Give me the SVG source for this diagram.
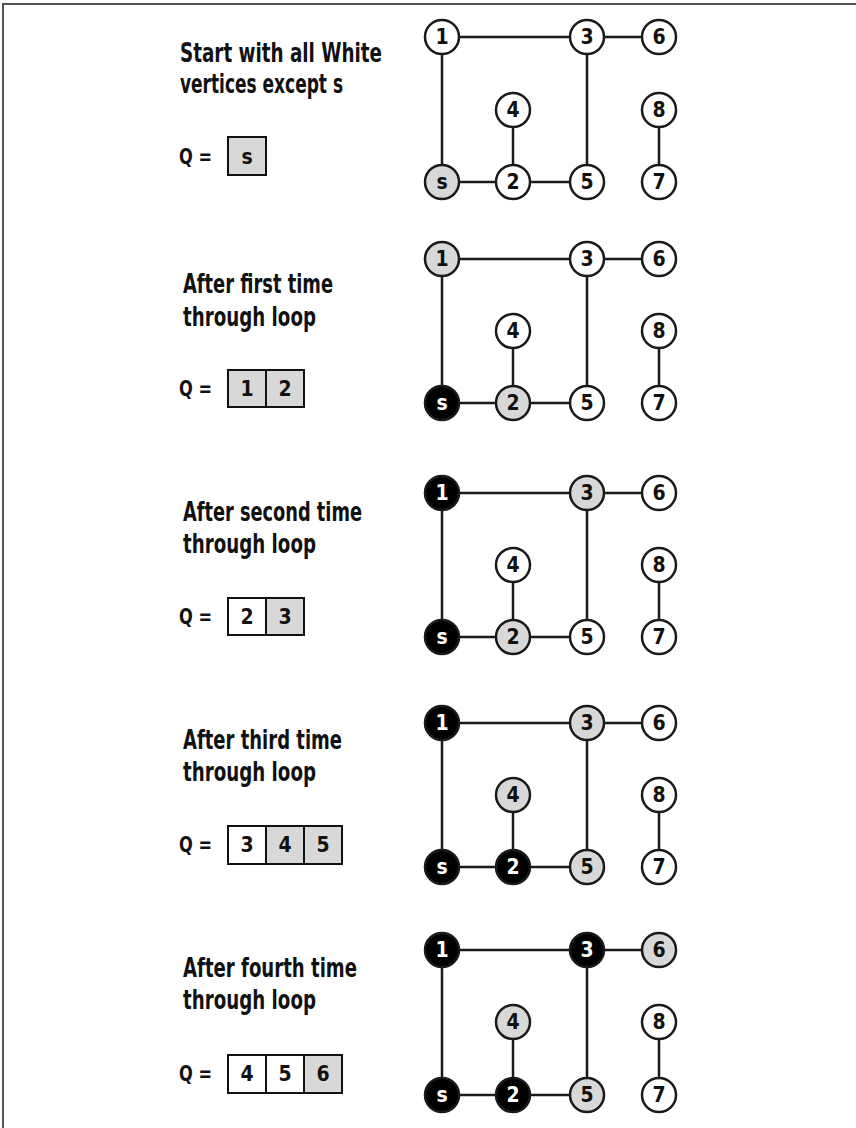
<svg xmlns="http://www.w3.org/2000/svg" width="856" height="1128" viewBox="0 0 856 1128">
<style>
text{font-family:"Liberation Sans Narrow","DejaVu Sans Condensed","Liberation Sans",sans-serif;font-weight:bold;fill:#111}
.title{font-size:26px}
.q{font-size:21px}
.node circle{stroke:#1a1a1a;stroke-width:2.5}
.node text{font-size:21px;text-anchor:middle}
.w circle{fill:#fff}
.g circle{fill:#d8d8d8}
.b circle{fill:#000}
.b text{fill:#fff}
.cell rect{stroke:#111;stroke-width:2}
.cell text{font-size:21px;text-anchor:middle}
.cw rect{fill:#fff}
.cg rect{fill:#d8d8d8}
.edges line{stroke:#1a1a1a;stroke-width:2.5}
.frame{stroke:#555;stroke-width:2;fill:none}
</style>
<path class="frame" d="M3,1128 V4 H856"/>

<!-- Panel 1 -->
<g id="p1-label"><text class="title" x="180" y="62" textLength="202" lengthAdjust="spacingAndGlyphs">Start with all White</text><text class="title" x="180" y="93" textLength="163" lengthAdjust="spacingAndGlyphs">vertices except s</text></g>
<g id="p1-queue"><text class="q" x="179" y="164" textLength="33" lengthAdjust="spacingAndGlyphs">Q =</text>
<g class="cell cg"><rect x="228" y="137" width="38" height="38"/><text x="247" y="164">s</text></g></g>
<g id="p1-edges" class="edges">
<line x1="442" y1="37" x2="587" y2="37"/><line x1="587" y1="37" x2="659" y2="37"/>
<line x1="442" y1="37" x2="442" y2="182"/><line x1="587" y1="37" x2="587" y2="182"/>
<line x1="513" y1="110" x2="513" y2="182"/><line x1="442" y1="182" x2="587" y2="182"/>
<line x1="659" y1="110" x2="659" y2="182"/></g>
<g id="p1-n1" class="node w"><circle cx="442" cy="37" r="17"/><text x="442" y="44">1</text></g>
<g id="p1-n3" class="node w"><circle cx="587" cy="37" r="17"/><text x="587" y="44">3</text></g>
<g id="p1-n6" class="node w"><circle cx="659" cy="37" r="17"/><text x="659" y="44">6</text></g>
<g id="p1-n4" class="node w"><circle cx="513" cy="110" r="17"/><text x="513" y="117">4</text></g>
<g id="p1-n8" class="node w"><circle cx="659" cy="110" r="17"/><text x="659" y="117">8</text></g>
<g id="p1-ns" class="node g"><circle cx="442" cy="182" r="17"/><text x="442" y="189">s</text></g>
<g id="p1-n2" class="node w"><circle cx="513" cy="182" r="17"/><text x="513" y="189">2</text></g>
<g id="p1-n5" class="node w"><circle cx="587" cy="182" r="17"/><text x="587" y="189">5</text></g>
<g id="p1-n7" class="node w"><circle cx="659" cy="182" r="17"/><text x="659" y="189">7</text></g>

<!-- Panel 2 -->
<g id="p2-label"><text class="title" x="183" y="293" textLength="150" lengthAdjust="spacingAndGlyphs">After first time</text><text class="title" x="183" y="326" textLength="133" lengthAdjust="spacingAndGlyphs">through loop</text></g>
<g id="p2-queue"><text class="q" x="179" y="396" textLength="33" lengthAdjust="spacingAndGlyphs">Q =</text>
<g class="cell cg"><rect x="228" y="370" width="38" height="37"/><text x="247" y="396">1</text></g>
<g class="cell cg"><rect x="266" y="370" width="38" height="37"/><text x="285" y="396">2</text></g></g>
<g id="p2-edges" class="edges">
<line x1="442" y1="259" x2="587" y2="259"/><line x1="587" y1="259" x2="659" y2="259"/>
<line x1="442" y1="259" x2="442" y2="403"/><line x1="587" y1="259" x2="587" y2="403"/>
<line x1="513" y1="331" x2="513" y2="403"/><line x1="442" y1="403" x2="587" y2="403"/>
<line x1="659" y1="331" x2="659" y2="403"/></g>
<g id="p2-n1" class="node g"><circle cx="442" cy="259" r="17"/><text x="442" y="266">1</text></g>
<g id="p2-n3" class="node w"><circle cx="587" cy="259" r="17"/><text x="587" y="266">3</text></g>
<g id="p2-n6" class="node w"><circle cx="659" cy="259" r="17"/><text x="659" y="266">6</text></g>
<g id="p2-n4" class="node w"><circle cx="513" cy="331" r="17"/><text x="513" y="338">4</text></g>
<g id="p2-n8" class="node w"><circle cx="659" cy="331" r="17"/><text x="659" y="338">8</text></g>
<g id="p2-ns" class="node b"><circle cx="442" cy="403" r="17"/><text x="442" y="410">s</text></g>
<g id="p2-n2" class="node g"><circle cx="513" cy="403" r="17"/><text x="513" y="410">2</text></g>
<g id="p2-n5" class="node w"><circle cx="587" cy="403" r="17"/><text x="587" y="410">5</text></g>
<g id="p2-n7" class="node w"><circle cx="659" cy="403" r="17"/><text x="659" y="410">7</text></g>

<!-- Panel 3 -->
<g id="p3-label"><text class="title" x="183" y="521" textLength="179" lengthAdjust="spacingAndGlyphs">After second time</text><text class="title" x="183" y="553" textLength="133" lengthAdjust="spacingAndGlyphs">through loop</text></g>
<g id="p3-queue"><text class="q" x="179" y="624" textLength="33" lengthAdjust="spacingAndGlyphs">Q =</text>
<g class="cell cw"><rect x="228" y="598" width="38" height="37"/><text x="247" y="624">2</text></g>
<g class="cell cg"><rect x="266" y="598" width="38" height="37"/><text x="285" y="624">3</text></g></g>
<g id="p3-edges" class="edges">
<line x1="442" y1="493" x2="587" y2="493"/><line x1="587" y1="493" x2="659" y2="493"/>
<line x1="442" y1="493" x2="442" y2="637"/><line x1="587" y1="493" x2="587" y2="637"/>
<line x1="513" y1="565" x2="513" y2="637"/><line x1="442" y1="637" x2="587" y2="637"/>
<line x1="659" y1="565" x2="659" y2="637"/></g>
<g id="p3-n1" class="node b"><circle cx="442" cy="493" r="17"/><text x="442" y="500">1</text></g>
<g id="p3-n3" class="node g"><circle cx="587" cy="493" r="17"/><text x="587" y="500">3</text></g>
<g id="p3-n6" class="node w"><circle cx="659" cy="493" r="17"/><text x="659" y="500">6</text></g>
<g id="p3-n4" class="node w"><circle cx="513" cy="565" r="17"/><text x="513" y="572">4</text></g>
<g id="p3-n8" class="node w"><circle cx="659" cy="565" r="17"/><text x="659" y="572">8</text></g>
<g id="p3-ns" class="node b"><circle cx="442" cy="637" r="17"/><text x="442" y="644">s</text></g>
<g id="p3-n2" class="node g"><circle cx="513" cy="637" r="17"/><text x="513" y="644">2</text></g>
<g id="p3-n5" class="node w"><circle cx="587" cy="637" r="17"/><text x="587" y="644">5</text></g>
<g id="p3-n7" class="node w"><circle cx="659" cy="637" r="17"/><text x="659" y="644">7</text></g>

<!-- Panel 4 -->
<g id="p4-label"><text class="title" x="183" y="749" textLength="159" lengthAdjust="spacingAndGlyphs">After third time</text><text class="title" x="183" y="781" textLength="133" lengthAdjust="spacingAndGlyphs">through loop</text></g>
<g id="p4-queue"><text class="q" x="179" y="852" textLength="33" lengthAdjust="spacingAndGlyphs">Q =</text>
<g class="cell cw"><rect x="228" y="826" width="38" height="38"/><text x="247" y="852">3</text></g>
<g class="cell cg"><rect x="266" y="826" width="38" height="38"/><text x="285" y="852">4</text></g>
<g class="cell cg"><rect x="304" y="826" width="38" height="38"/><text x="323" y="852">5</text></g></g>
<g id="p4-edges" class="edges">
<line x1="442" y1="723" x2="587" y2="723"/><line x1="587" y1="723" x2="659" y2="723"/>
<line x1="442" y1="723" x2="442" y2="867"/><line x1="587" y1="723" x2="587" y2="867"/>
<line x1="513" y1="795" x2="513" y2="867"/><line x1="442" y1="867" x2="587" y2="867"/>
<line x1="659" y1="795" x2="659" y2="867"/></g>
<g id="p4-n1" class="node b"><circle cx="442" cy="723" r="17"/><text x="442" y="730">1</text></g>
<g id="p4-n3" class="node g"><circle cx="587" cy="723" r="17"/><text x="587" y="730">3</text></g>
<g id="p4-n6" class="node w"><circle cx="659" cy="723" r="17"/><text x="659" y="730">6</text></g>
<g id="p4-n4" class="node g"><circle cx="513" cy="795" r="17"/><text x="513" y="802">4</text></g>
<g id="p4-n8" class="node w"><circle cx="659" cy="795" r="17"/><text x="659" y="802">8</text></g>
<g id="p4-ns" class="node b"><circle cx="442" cy="867" r="17"/><text x="442" y="874">s</text></g>
<g id="p4-n2" class="node b"><circle cx="513" cy="867" r="17"/><text x="513" y="874">2</text></g>
<g id="p4-n5" class="node g"><circle cx="587" cy="867" r="17"/><text x="587" y="874">5</text></g>
<g id="p4-n7" class="node w"><circle cx="659" cy="867" r="17"/><text x="659" y="874">7</text></g>

<!-- Panel 5 -->
<g id="p5-label"><text class="title" x="183" y="977" textLength="174" lengthAdjust="spacingAndGlyphs">After fourth time</text><text class="title" x="183" y="1009" textLength="133" lengthAdjust="spacingAndGlyphs">through loop</text></g>
<g id="p5-queue"><text class="q" x="179" y="1081" textLength="33" lengthAdjust="spacingAndGlyphs">Q =</text>
<g class="cell cw"><rect x="228" y="1055" width="38" height="38"/><text x="247" y="1081">4</text></g>
<g class="cell cw"><rect x="266" y="1055" width="38" height="38"/><text x="285" y="1081">5</text></g>
<g class="cell cg"><rect x="304" y="1055" width="38" height="38"/><text x="323" y="1081">6</text></g></g>
<g id="p5-edges" class="edges">
<line x1="442" y1="950" x2="587" y2="950"/><line x1="587" y1="950" x2="659" y2="950"/>
<line x1="442" y1="950" x2="442" y2="1095"/><line x1="587" y1="950" x2="587" y2="1095"/>
<line x1="513" y1="1022" x2="513" y2="1095"/><line x1="442" y1="1095" x2="587" y2="1095"/>
<line x1="659" y1="1022" x2="659" y2="1095"/></g>
<g id="p5-n1" class="node b"><circle cx="442" cy="950" r="17"/><text x="442" y="957">1</text></g>
<g id="p5-n3" class="node b"><circle cx="587" cy="950" r="17"/><text x="587" y="957">3</text></g>
<g id="p5-n6" class="node g"><circle cx="659" cy="950" r="17"/><text x="659" y="957">6</text></g>
<g id="p5-n4" class="node g"><circle cx="513" cy="1022" r="17"/><text x="513" y="1029">4</text></g>
<g id="p5-n8" class="node w"><circle cx="659" cy="1022" r="17"/><text x="659" y="1029">8</text></g>
<g id="p5-ns" class="node b"><circle cx="442" cy="1095" r="17"/><text x="442" y="1102">s</text></g>
<g id="p5-n2" class="node b"><circle cx="513" cy="1095" r="17"/><text x="513" y="1102">2</text></g>
<g id="p5-n5" class="node g"><circle cx="587" cy="1095" r="17"/><text x="587" y="1102">5</text></g>
<g id="p5-n7" class="node w"><circle cx="659" cy="1095" r="17"/><text x="659" y="1102">7</text></g>
</svg>
